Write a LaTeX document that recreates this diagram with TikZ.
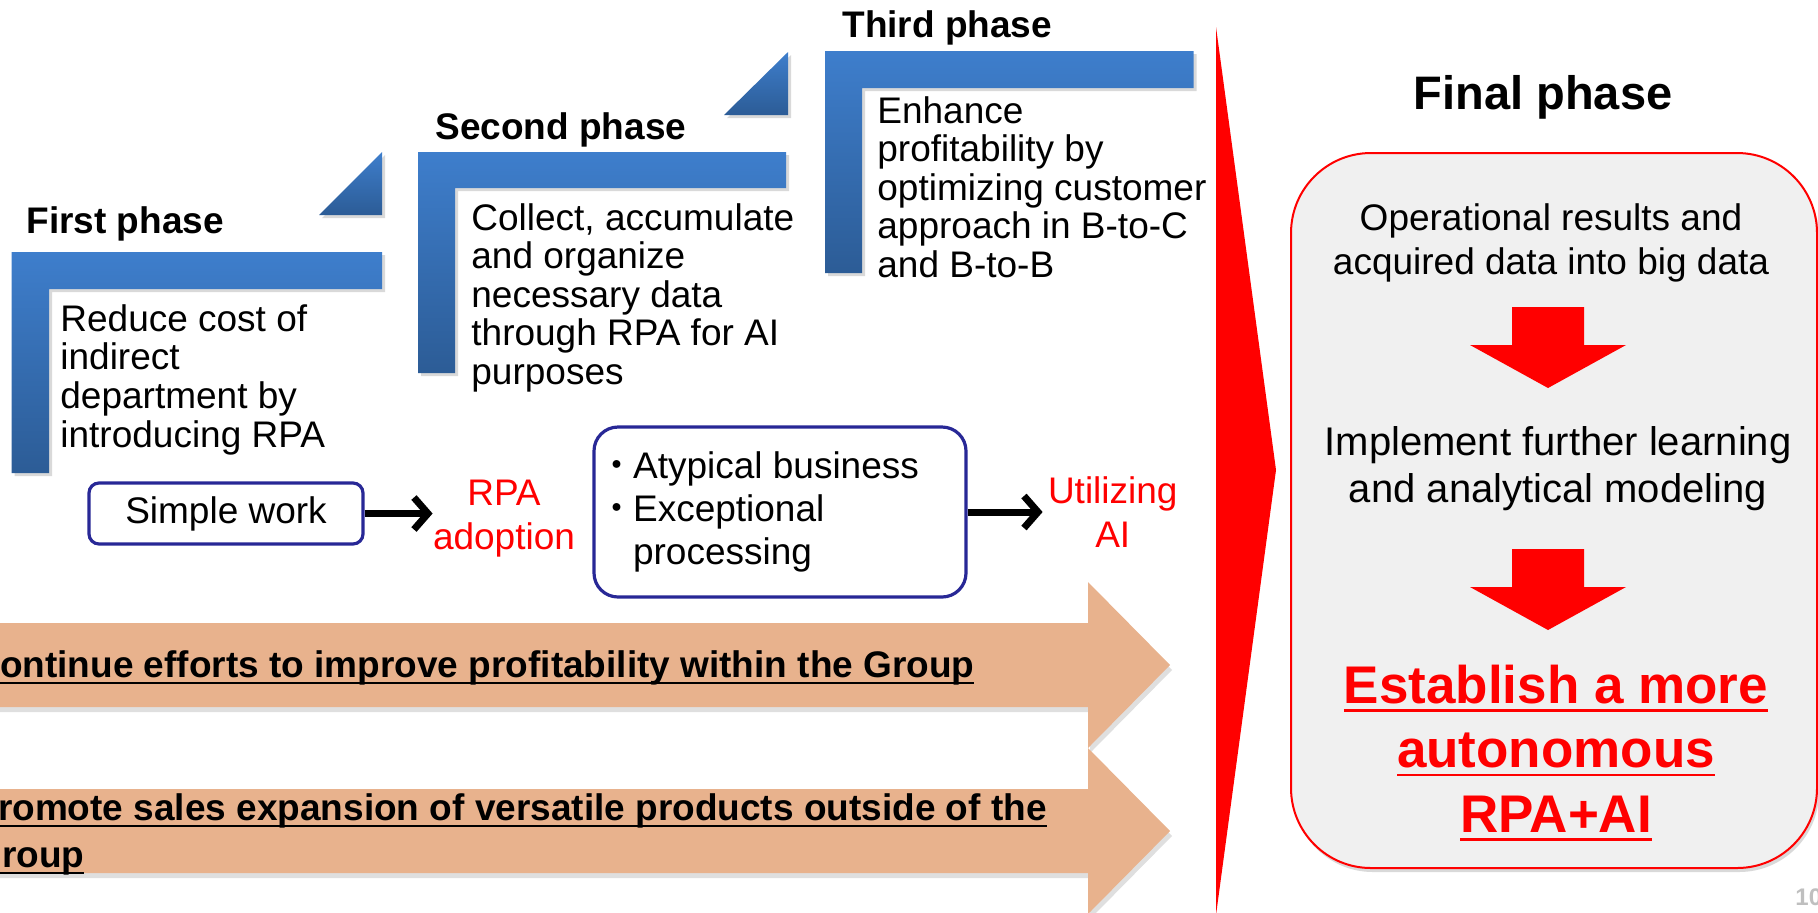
\documentclass[tikz,border=0pt]{standalone}
\usepackage{fontspec}
\setmainfont{Liberation Sans}
\newfontfamily\cjkfont{Noto Sans CJK JP}
\usetikzlibrary{arrows.meta, positioning, shadows}

\definecolor{phaseblue}{RGB}{62,126,204}
\definecolor{phasedark}{RGB}{44,92,150}
\definecolor{navy}{RGB}{40,40,150}
\definecolor{peach}{RGB}{232,178,141}
\definecolor{boxgray}{RGB}{240,240,240}

% underline at a set depth and thickness
\def\uldepth{3pt}
\def\ulthick{1pt}
\newcommand{\undl}[1]{\setbox0=\hbox{#1}\rlap{\rule[-\dimexpr\uldepth+\ulthick\relax]{\wd0}{\ulthick}}\box0}
\newcommand{\bul}{\makebox[16pt][c]{\cjkfont ・}}

\begin{document}
\begin{tikzpicture}[
  x=0.5pt, y=-0.5pt,
  font=\fontsize{18.5}{19.3}\selectfont,
  phase/.style={top color=phaseblue, bottom color=phasedark,
                drop shadow={opacity=0.3, shadow xshift=1.5pt, shadow yshift=-1.5pt}},
  phasehead/.style={anchor=base west, inner sep=0pt, font=\bfseries\fontsize{18.5}{22}\selectfont},
  phasetext/.style={anchor=base west, inner sep=0pt, align=left},
  workbox/.style={draw=navy, line width=1.6pt, rounded corners=#1, fill=white, inner sep=0pt},
  workbox/.default=5pt,
  redlab/.style={text=red, align=center, inner sep=0pt, font=\fontsize{18.5}{22.3}\selectfont},
  flow/.style={-{Straight Barb[length=7pt, width=16pt]}, line width=3.5pt},
  band/.style={fill=peach, drop shadow={opacity=0.25, shadow xshift=1pt, shadow yshift=-2.5pt}},
  bandlab/.style={anchor=base west, inner sep=0pt, align=left,
                  font=\bfseries\fontsize{18.5}{23.5}\selectfont\def\uldepth{2.5pt}\def\ulthick{1.1pt}},
  finalbox/.style={draw=red, line width=1pt, fill=boxgray, rounded corners=40pt,
                   drop shadow={opacity=0.3, shadow xshift=1pt, shadow yshift=-2pt}},
  step2/.style={anchor=base, align=center, inner sep=0pt},
  goal/.style={step2, text=red,
               font=\bfseries\fontsize{26.5}{32.25}\selectfont\def\uldepth{3pt}\def\ulthick{1.35pt}},
]
\useasboundingbox (0,0) rectangle (1818,912);

% ---------- Phases ----------
\path[phase] (11.5,252) -- (382,252) -- (382,289) -- (49,289) -- (49,473) -- (11.5,473) -- cycle;
\path[phase] (319,215) -- (382,152) -- (382,215) -- cycle;
\node[phasehead] (first) at (26,233) {First phase};
\node[phasetext] (firsttxt) at (60,447) {Reduce cost of\\indirect\\department by\\introducing RPA};

\path[phase] (418,152) -- (786,152) -- (786,188) -- (455,188) -- (455,373) -- (418,373) -- cycle;
\path[phase] (724,115) -- (788,52) -- (788,115) -- cycle;
\node[phasehead] (second) at (435,139) {Second phase};
\node[phasetext] (secondtxt) at (471,384.5) {Collect, accumulate\\and organize\\necessary data\\through RPA for AI\\purposes};

\path[phase] (825,51) -- (1193.5,51) -- (1193.5,88) -- (862,88) -- (862,273) -- (825,273) -- cycle;
\node[phasehead] (third) at (842,37) {Third phase};
\node[phasetext] (thirdtxt) at (877,277.5) {Enhance\\profitability by\\optimizing customer\\approach in B-to-C\\and B-to-B};

% ---------- Work flow ----------
\node[workbox, minimum width=137pt, minimum height=30.5pt] (simple) at (226,513.5) {Simple work};
\node[redlab, right=34pt of simple, yshift=-2.5pt] (rpa) {RPA\\adoption};
\node[workbox=12pt, minimum width=186pt, minimum height=85pt, align=left,
      font=\fontsize{18.5}{21.5}\selectfont] (atyp) at (780,512)
      {\bul Atypical business\rule{20pt}{0pt}\\\bul Exceptional\\\hphantom{\bul}processing};
\node[redlab, right=40pt of atyp] (util) {Utilizing\\AI};
\draw[flow] (simple.east) -- (simple.east -| rpa.west);
\draw[flow] (atyp.east) -- ([xshift=-2.5pt]atyp.east -| util.west);

% ---------- Group bands ----------
\path[band] (-20,623) -- (1088,623) -- (1088,582) -- (1170,665) -- (1088,748) -- (1088,707) -- (-20,707) -- cycle;
\path[band] (-20,789) -- (1088,789) -- (1088,748) -- (1170,831) -- (1088,914) -- (1088,873) -- (-20,873) -- cycle;
\node[bandlab] (effort) at (-27,677) {\undl{Continue efforts to improve profitability within the Group}};
\node[bandlab] (sales) at (-27,867) {\undl{Promote sales expansion of versatile products outside of the}\\\undl{Group}};

% ---------- Final phase ----------
\fill[red] (1216,27) -- (1276,470) -- (1216,915) -- cycle;
\node[anchor=base, inner sep=0pt, font=\bfseries\fontsize{23.5}{28}\selectfont] (finalhead) at (1543,109) {Final phase};
\node[finalbox, minimum width=263pt, minimum height=357.5pt] (final) at (1554,510.5) {};
\node[step2, font=\fontsize{18.5}{22}\selectfont] (bigdata) at (1551,274) {Operational results and\\acquired data into big data};
\fill[red] (1512,307) -- (1584,307) -- (1584,345) -- (1626,345) -- (1548,388) -- (1470,345) -- (1512,345) -- cycle;
\node[step2, font=\fontsize{20}{23.5}\selectfont] (learn) at (1558,502) {Implement further learning\\and analytical modeling};
\fill[red] (1512,549) -- (1584,549) -- (1584,587) -- (1626,587) -- (1548,630) -- (1470,587) -- (1512,587) -- cycle;
\node[goal] (goal) at (1556,832) {\undl{Establish a more}\\\undl{autonomous}\\\undl{RPA+AI}};

\node[anchor=base west, inner sep=0pt, text=black!25, font=\bfseries\fontsize{12}{12}\selectfont] (pageno) at (1795,905) {10};
\end{tikzpicture}
\end{document}
